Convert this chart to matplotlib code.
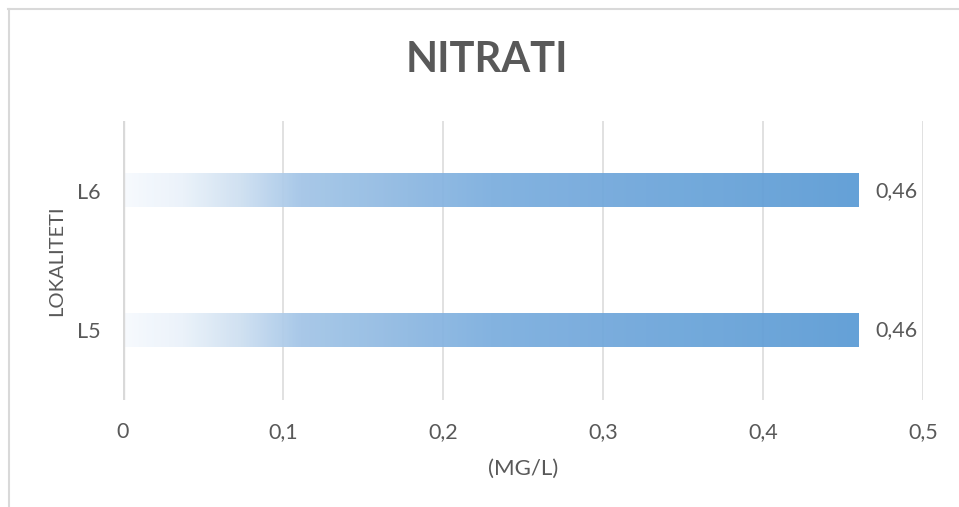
import numpy as np
import matplotlib.pyplot as plt
from matplotlib.colors import LinearSegmentedColormap

# data
lokaliteti = ['L5', 'L6']
nitrati = [0.46, 0.46]
x_ticks = [0, 0.1, 0.2, 0.3, 0.4, 0.5]

plt.rcParams['font.family'] = ['Lato', 'DejaVu Sans']
text_color = '#595959'
grid_color = '#d9d9d9'

# gradient like the excel fill: almost white on the left, blue on the right
grad = LinearSegmentedColormap.from_list('bar_grad', [
    (0.0, (247/255, 250/255, 254/255)),
    (0.08, (234/255, 242/255, 250/255)),
    (0.16, (205/255, 223/255, 241/255)),
    (0.24, (163/255, 197/255, 231/255)),
    (0.5, (124/255, 174/255, 222/255)),
    (1.0, (91/255, 155/255, 213/255)),
])

fig = plt.figure(figsize=(9.59, 5.07), dpi=100)
ax = fig.add_axes([123/959, 1 - 400/507, 800/959, 279/507])

bar_h = 0.237
ypos = np.arange(len(lokaliteti))
gradient = np.linspace(0, 1, 256).reshape(1, -1)
for y, v in zip(ypos, nitrati):
    ax.imshow(gradient, cmap=grad, aspect='auto', extent=(0, v, y - bar_h/2, y + bar_h/2),
              zorder=2, alpha=0.94)
    ax.text(v + 0.01, y, f'{v:.2f}'.replace('.', ','), va='center', ha='left',
            fontsize=15.5, color=text_color)

ax.set_xlim(0, 0.5)
ax.set_ylim(-0.5, len(lokaliteti) - 0.5)
ax.set_xticks(x_ticks)
ax.set_xticklabels([('%g' % t).replace('.', ',') for t in x_ticks])
ax.set_yticks(ypos)
ax.set_yticklabels(lokaliteti)

# vertical grid lines, thicker zero line
for t in x_ticks[1:]:
    ax.axvline(t, color=grid_color, lw=1.1, zorder=1)
ax.axvline(0, color=grid_color, lw=2.4, zorder=3)

for s in ax.spines.values():
    s.set_visible(False)
ax.tick_params(axis='both', length=0, labelsize=15.5, labelcolor=text_color)
ax.tick_params(axis='x', pad=16)
ax.tick_params(axis='y', pad=16)

ax.set_xlabel('(MG/L)', fontsize=16, color=text_color, labelpad=12)
ax.set_ylabel('LOKALITETI', fontsize=14.5, color=text_color, labelpad=9)

fig.text(487/959, 1 - 60/507, 'NITRATI', ha='center', va='center', fontsize=30,
         fontweight='bold', color=text_color)

# chart border, only top and left visible in the crop
fig.add_artist(plt.Line2D([8/959, 1], [1 - 8.5/507, 1 - 8.5/507], color=grid_color, lw=1.5))
fig.add_artist(plt.Line2D([8.5/959, 8.5/959], [0, 1 - 8.5/507], color=grid_color, lw=1.5))

fig.savefig('out.png', dpi=100)
